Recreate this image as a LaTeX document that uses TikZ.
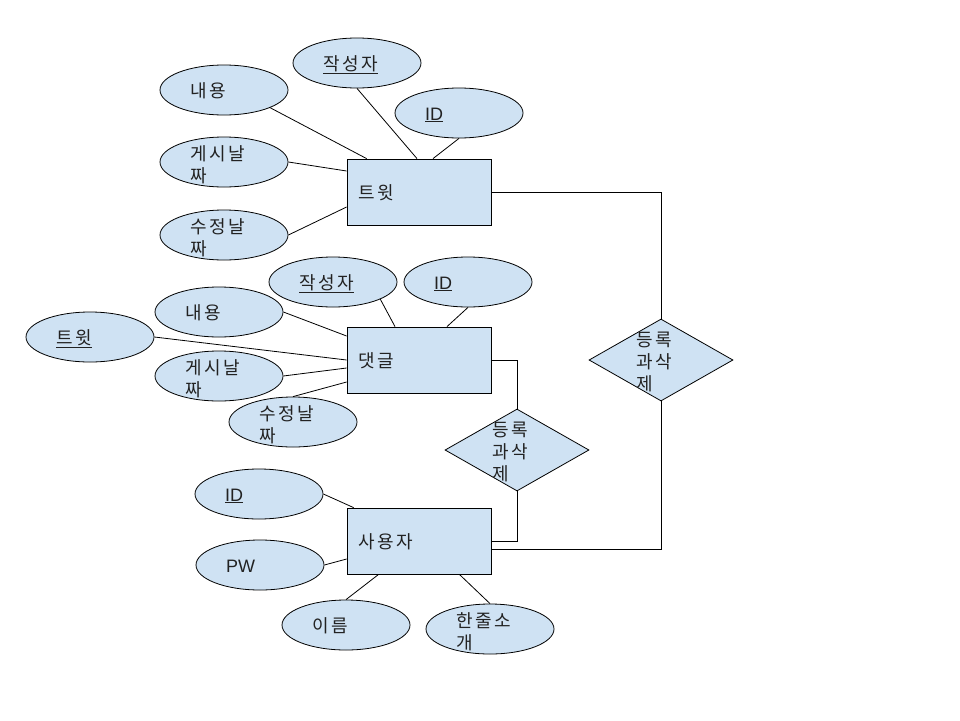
\documentclass[tikz,border=0pt]{standalone}
\usepackage{fontspec}
\setmainfont{Liberation Sans}
\newfontfamily\krfont[LetterSpace=16]{Noto Sans CJK KR}
\definecolor{ErFill}{HTML}{CFE2F3}
\definecolor{ErLine}{HTML}{000000}
\definecolor{ErText}{HTML}{222222}
\usetikzlibrary{shapes.geometric}
\tikzset{
  entity/.style={draw=ErLine, fill=ErFill, line width=0.8pt, minimum width=144pt, minimum height=66pt, text width=122pt, inner xsep=11pt, align=left, text height=16pt, text depth=2pt, text=ErText, font=\krfont\fontsize{18}{22.5}\selectfont},
  attr/.style={ellipse, draw=ErLine, fill=ErFill, line width=0.8pt, minimum width=128pt, minimum height=50pt, inner sep=0pt, text width=68pt, align=left, text height=16pt, text depth=2pt, text=ErText, font=\krfont\fontsize{18}{22.5}\selectfont},
  attrtwo/.style={attr, text height=0pt, text depth=4pt},
  latin/.style={font=\normalfont\fontsize{18}{22.5}\selectfont},
  rel/.style={diamond, aspect=1.78, draw=ErLine, fill=ErFill, line width=0.8pt, minimum width=144pt, minimum height=82pt, inner sep=0pt, text width=50pt, align=left, text height=0pt, text depth=28pt, text=ErText, font=\krfont\fontsize{18}{22}\selectfont},
  link/.style={draw=ErLine, line width=0.8pt}
}

\begin{document}
\begin{tikzpicture}[x=1pt, y=-1pt]
    \useasboundingbox (0,0) rectangle (960,720);

    % entities
    \node[entity] (tw) at (419,192) {트윗};
    \node[entity] (cm) at (419,360) {댓글};
    \node[entity] (us) at (419,541) {사용자};

    % relationships
    \node[rel] (r1) at (661,360) {등록\\과삭\\제};
    \node[rel] (r2) at (517,450) {등록\\과삭\\제};

    % tweet attributes
    \node[attr] (twc) at (224,90) {내용};
    \node[attr] (tww) at (357,63) {\underline{작성자}};
    \node[attr, latin] (twi) at (459,113) {\underline{ID}};
    \node[attrtwo] (twp) at (224,162) {게시날\\짜};
    \node[attrtwo] (twm) at (224,235) {수정날\\짜};

    % comment attributes
    \node[attr] (cmc) at (219,312) {내용};
    \node[attr] (cmw) at (333,282) {\underline{작성자}};
    \node[attr, latin] (cmi) at (468,282) {\underline{ID}};
    \node[attr] (cmt) at (90,337) {\underline{트윗}};
    \node[attrtwo] (cmp) at (219,376) {게시날\\짜};
    \node[attrtwo] (cmm) at (293,422) {수정날\\짜};

    % user attributes
    \node[attr, latin] (usi) at (259,494) {\underline{ID}};
    \node[attr, latin] (usp) at (260,565) {PW};
    \node[attr] (usn) at (346,625) {이름};
    \node[attrtwo] (usd) at (490,629) {한줄소\\개};

    \draw[link] (twc.-21) -- ([xshift=20pt]tw.north west);
    \draw[link] (tww.south) -- ([xshift=-2pt]tw.north);
    \draw[link] (twi.south) -- ([xshift=14pt]tw.north);
    \draw[link] (twp.east) -- ([yshift=21pt]tw.west);
    \draw[link] (twm.east) -- ([yshift=-15pt]tw.west);

    \draw[link] (cmc.east) -- ([yshift=24pt]cm.west);
    \draw[link] (cmw.-20) -- ([xshift=-24pt]cm.north);
    \draw[link] (cmi.south) -- ([xshift=28pt]cm.north);
    \draw[link] (cmt.east) -- (cm.west);
    \draw[link] (cmp.east) -- ([yshift=-8pt]cm.west);
    \draw[link] (cmm.north) -- ([yshift=-22pt]cm.west);

    \draw[link] (usi.east) -- ([xshift=7pt]us.north west);
    \draw[link] (usp.east) -- ([yshift=-18pt]us.west);
    \draw[link] (usn.north) -- ([xshift=32pt]us.south west);
    \draw[link] (usd.north) -- ([xshift=-32pt]us.south east);

    \draw[link] (tw.east) -| (r1.north);
    \draw[link] ([yshift=-8pt]us.east) -| (r1.south);
    \draw[link] (cm.east) -| (r2.north);
    \draw[link] (us.east) -| (r2.south);
  \end{tikzpicture}
\end{document}
